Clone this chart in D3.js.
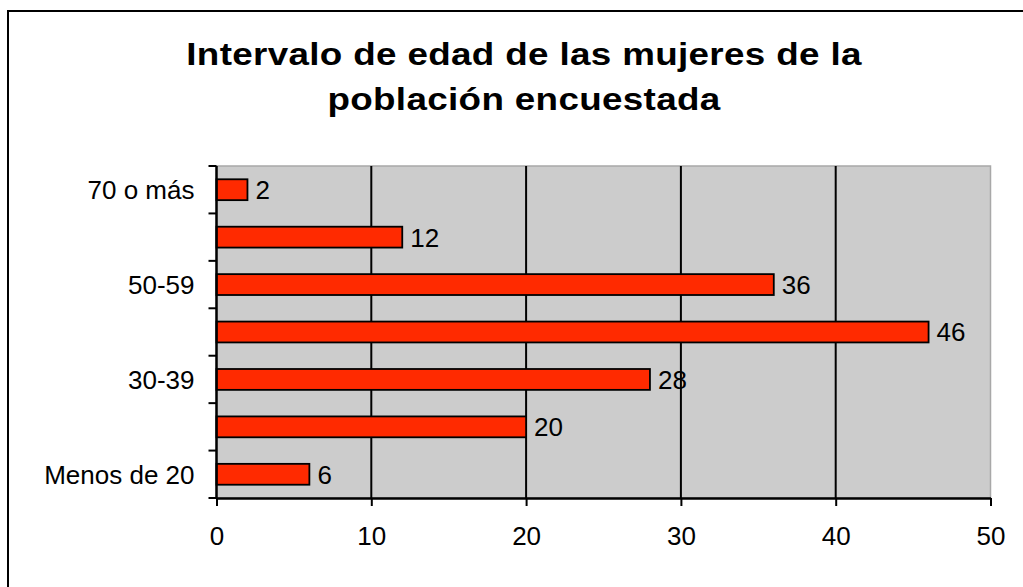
<!DOCTYPE html>
<html>
<head>
<meta charset="utf-8">
<script src="https://cdn.jsdelivr.net/npm/d3@7"></script>
<style>
  html, body { margin: 0; padding: 0; background: #fff; }
  svg { display: block; }
</style>
</head>
<body>
<svg id="chart" width="1023" height="587"></svg>
<script>
// Data (top to bottom order as drawn)
const categories = ["70 o más", "60-69", "50-59", "40-49", "30-39", "20-29", "Menos de 20"];
const values = [2, 12, 36, 46, 28, 20, 6];
const shownLabels = ["70 o más", "50-59", "30-39", "Menos de 20"];
const xTicks = [0, 10, 20, 30, 40, 50];
const titleLines = ["Intervalo de edad de las mujeres de la", "población encuestada"];

const svg = d3.select("#chart");

// outer chart border
svg.append("rect")
  .attr("x", 8).attr("y", 11)
  .attr("width", 1040).attr("height", 620)
  .attr("fill", "#fff").attr("stroke", "#000").attr("stroke-width", 2);

const plot = { left: 216.5, right: 990.5, top: 166, bottom: 498 };

const x = d3.scaleLinear().domain([0, 50]).range([plot.left, plot.right]);
const y = d3.scaleBand().domain(categories).range([plot.top, plot.bottom]).paddingInner(0.56).paddingOuter(0.28);

// plot area background
svg.append("rect")
  .attr("x", plot.left).attr("y", plot.top)
  .attr("width", plot.right - plot.left).attr("height", plot.bottom - plot.top)
  .attr("fill", "#cccccc").attr("stroke", "#a8a8a8").attr("stroke-width", 1.5);

// vertical gridlines
svg.append("g").selectAll("line")
  .data(xTicks.filter(t => t > 0 && t < 50))
  .join("line")
  .attr("x1", d => x(d)).attr("x2", d => x(d))
  .attr("y1", plot.top).attr("y2", plot.bottom)
  .attr("stroke", "#000").attr("stroke-width", 2);

// bars
svg.append("g").selectAll("rect")
  .data(categories.map((c, i) => ({ c, v: values[i] })))
  .join("rect")
  .attr("x", x(0))
  .attr("y", d => y(d.c))
  .attr("width", d => x(d.v) - x(0))
  .attr("height", y.bandwidth())
  .attr("fill", "#ff2a00")
  .attr("stroke", "#000")
  .attr("stroke-width", 1.8);

// value labels
svg.append("g").selectAll("text")
  .data(categories.map((c, i) => ({ c, v: values[i] })))
  .join("text")
  .attr("x", d => x(d.v) + 8)
  .attr("y", d => y(d.c) + y.bandwidth() / 2)
  .attr("dy", "0.36em")
  .attr("font-family", "'Liberation Sans', Arial, sans-serif")
  .attr("font-size", 26)
  .attr("fill", "#000")
  .text(d => d.v);

// X axis
const xAxis = d3.axisBottom(x).tickValues(xTicks).tickSize(8).tickPadding(21).tickSizeOuter(0);
const gx = svg.append("g").attr("transform", `translate(0,${plot.bottom})`).call(xAxis);
gx.select(".domain").attr("stroke", "#000").attr("stroke-width", 2.5);
gx.selectAll(".tick line").attr("stroke", "#000").attr("stroke-width", 2);
gx.selectAll(".tick text")
  .attr("font-family", "'Liberation Sans', Arial, sans-serif")
  .attr("font-size", 26).attr("fill", "#000");

// Y axis: ticks at band boundaries
const n = categories.length;
const step = (plot.bottom - plot.top) / n;
const boundaries = d3.range(n + 1).map(i => plot.top + i * step);
const gy = svg.append("g");
gy.append("line")
  .attr("x1", plot.left).attr("x2", plot.left)
  .attr("y1", plot.top).attr("y2", plot.bottom)
  .attr("stroke", "#000").attr("stroke-width", 2.5);
gy.selectAll("line.tk").data(boundaries).join("line").attr("class", "tk")
  .attr("x1", plot.left - 8).attr("x2", plot.left)
  .attr("y1", d => d).attr("y2", d => d)
  .attr("stroke", "#000").attr("stroke-width", 2);
gy.selectAll("text").data(shownLabels).join("text")
  .attr("x", plot.left - 22)
  .attr("y", d => y(d) + y.bandwidth() / 2)
  .attr("dy", "0.36em")
  .attr("text-anchor", "end")
  .attr("font-family", "'Liberation Sans', Arial, sans-serif")
  .attr("font-size", 26)
  .attr("fill", "#000")
  .text(d => d);

// Title (glyphs drawn slightly wide, as in the reference)
svg.append("g").selectAll("text").data(titleLines).join("text")
  .attr("transform", (d, i) => `translate(524,${65 + i * 45}) scale(1.15,1)`)
  .attr("text-anchor", "middle")
  .attr("font-family", "'Liberation Sans', Arial, sans-serif")
  .attr("font-weight", "bold")
  .attr("font-size", 32)
  .attr("letter-spacing", "0.3px")
  .attr("fill", "#000")
  .text(d => d);
</script>
</body>
</html>
